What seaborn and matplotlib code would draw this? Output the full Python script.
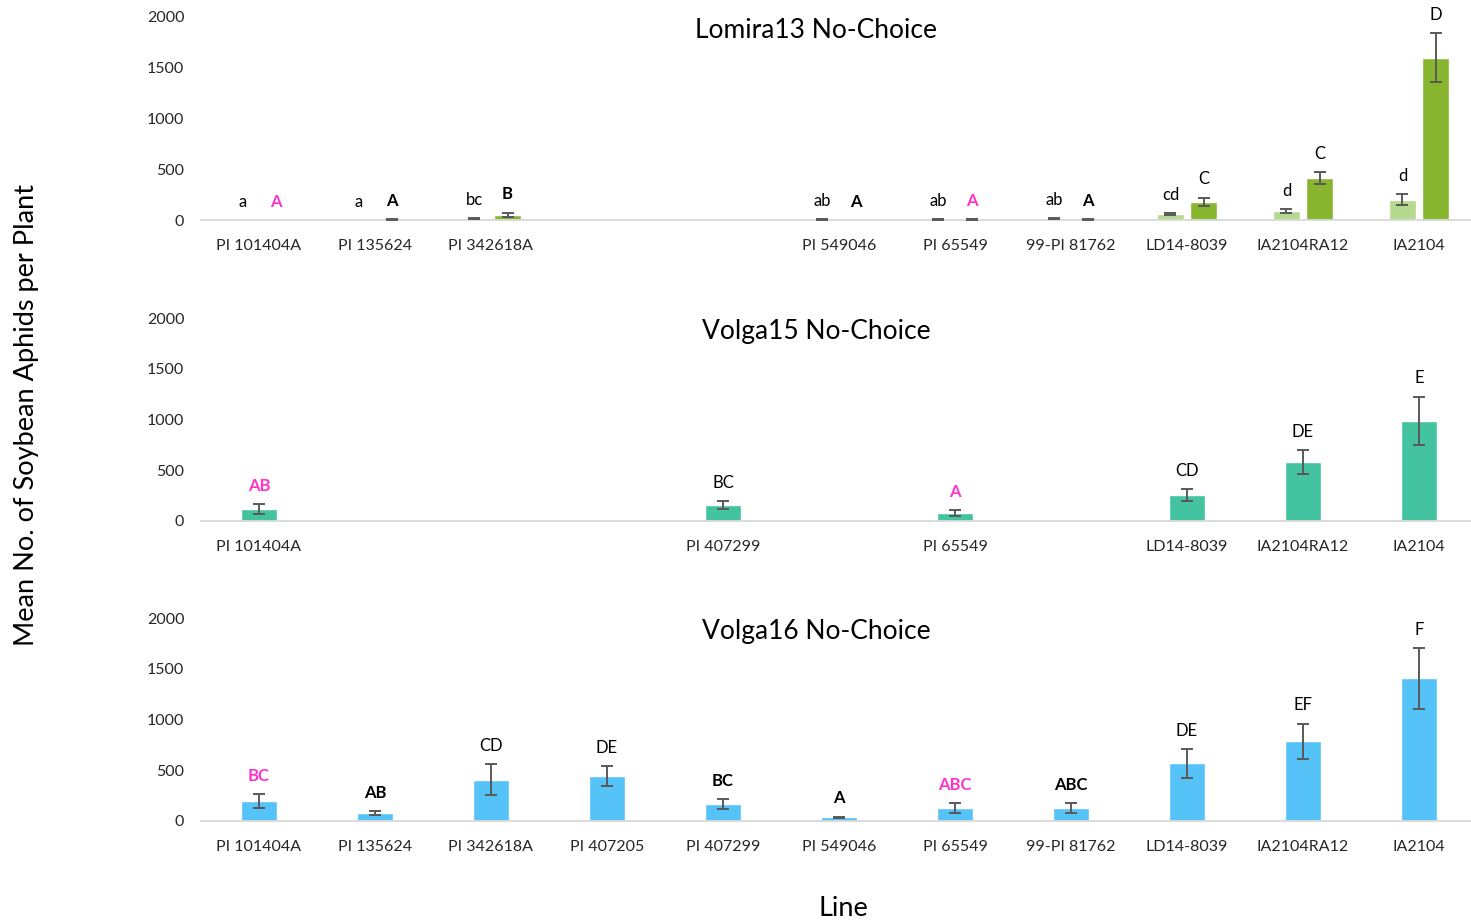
import matplotlib
matplotlib.use("Agg")
import matplotlib.pyplot as plt
import seaborn as sns
import pandas as pd

# Soybean lines on the shared category axis
CATEGORIES = ["PI 101404A", "PI 135624", "PI 342618A", "PI 407205", "PI 407299",
              "PI 549046", "PI 65549", "99-PI 81762", "LD14-8039", "IA2104RA12", "IA2104"]

MAGENTA = "#ff33cc"
BLACK = "#000000"

# Lomira13 no-choice: two series per line
lom_lines = ["PI 101404A", "PI 135624", "PI 342618A", "PI 549046", "PI 65549",
             "99-PI 81762", "LD14-8039", "IA2104RA12", "IA2104"]
lom_a_mean = [0, 0, 15, 5, 5, 10, 60, 90, 200]
lom_a_se = [0, 0, 5, 4, 4, 5, 8, 20, 55]
lom_a_text = ["a", "a", "bc", "ab", "ab", "ab", "cd", "d", "d"]
lom_a_color = [BLACK] * 9
lom_a_weight = ["normal"] * 9
lom_b_mean = [0, 5, 50, 0, 5, 5, 180, 410, 1600]
lom_b_se = [0, 4, 22, 0, 4, 4, 40, 60, 240]
lom_b_text = ["A", "A", "B", "A", "A", "A", "C", "C", "D"]
lom_b_color = [MAGENTA, BLACK, BLACK, BLACK, MAGENTA, BLACK, BLACK, BLACK, BLACK]
lom_b_weight = ["bold"] * 6 + ["normal"] * 3

# Volga15 no-choice
v15_lines = ["PI 101404A", "PI 407299", "PI 65549", "LD14-8039", "IA2104RA12", "IA2104"]
v15_mean = [120, 160, 75, 255, 580, 985]
v15_se = [47, 37, 30, 60, 120, 240]
v15_text = ["AB", "BC", "A", "CD", "DE", "E"]
v15_color = [MAGENTA, BLACK, MAGENTA, BLACK, BLACK, BLACK]
v15_weight = ["bold", "normal", "bold", "normal", "normal", "normal"]

# Volga16 no-choice
v16_lines = CATEGORIES
v16_mean = [197, 79, 407, 446, 167, 36, 125, 125, 568, 785, 1406]
v16_se = [69, 15, 153, 98, 50, 8, 50, 50, 141, 174, 300]
v16_text = ["BC", "AB", "CD", "DE", "BC", "A", "ABC", "ABC", "DE", "EF", "F"]
v16_color = [MAGENTA, BLACK, BLACK, BLACK, BLACK, BLACK, MAGENTA, BLACK, BLACK, BLACK, BLACK]
v16_weight = ["bold", "bold", "normal", "normal", "bold", "bold", "bold", "bold",
              "normal", "normal", "normal"]

Y_TICKS = [0, 500, 1000, 1500, 2000]

sns.set_theme(style="white")
plt.rcParams["font.family"] = ["Lato", "DejaVu Sans"]

FIG_W, FIG_H = 1471, 923
fig = plt.figure(figsize=(FIG_W / 100, FIG_H / 100), dpi=100)

AX_LEFT = 201 / FIG_W
AX_WIDTH = 1276 / FIG_W
AX_HEIGHT = 203 / FIG_H
TICK_COLOR = "#262626"


def make_axes(zero_px):
    return fig.add_axes([AX_LEFT, 1 - zero_px / FIG_H, AX_WIDTH, AX_HEIGHT])


def table(lines, mean, se, text, color, weight, series):
    return pd.DataFrame({"line": lines, "mean": mean, "se": se, "text": text,
                         "color": color, "weight": weight, "series": series})


def decorate(ax, frames, present):
    # error bars and significance letters on every drawn bar
    for container, frame in zip(ax.containers, frames):
        info = frame.set_index("line")
        for bar in container:
            x = bar.get_x() + bar.get_width() / 2
            name = CATEGORIES[int(round(x))]
            row = info.loc[name]
            h = row["mean"]
            if row["se"] > 0:
                ax.errorbar(x, h, yerr=row["se"], fmt="none", ecolor="#595959",
                            elinewidth=1.4, capsize=4, capthick=1.4, zorder=3)
            ax.annotate(row["text"], xy=(x, h + row["se"]), xytext=(0, 9.5),
                        textcoords="offset points", ha="center", va="baseline",
                        fontsize=12, color=row["color"], fontweight=row["weight"])
    ax.set_ylim(0, 2000)
    ax.set_xlim(-0.5, len(CATEGORIES) - 0.5)
    ax.set_yticks(Y_TICKS)
    ax.set_yticklabels([str(v) for v in Y_TICKS], fontsize=11.5, color=TICK_COLOR)
    ax.set_xticks(range(len(CATEGORIES)))
    ax.set_xticklabels([c if c in present else "" for c in CATEGORIES],
                       fontsize=11.5, color=TICK_COLOR)
    ax.tick_params(axis="both", length=0)
    ax.tick_params(axis="y", pad=12)
    ax.tick_params(axis="x", pad=14)
    ax.set_xlabel("")
    ax.set_ylabel("")
    for side in ("top", "right", "left"):
        ax.spines[side].set_visible(False)
    ax.spines["bottom"].set_color("#d9d9d9")
    ax.spines["bottom"].set_linewidth(1.3)
    ax.patch.set_alpha(0)


# --- Lomira13 ---
ax1 = make_axes(220)
lom_a = table(lom_lines, lom_a_mean, lom_a_se, lom_a_text, lom_a_color, lom_a_weight, "s1")
lom_b = table(lom_lines, lom_b_mean, lom_b_se, lom_b_text, lom_b_color, lom_b_weight, "s2")
lom = pd.concat([lom_a, lom_b], ignore_index=True)
sns.barplot(data=lom, x="line", y="mean", hue="series", order=CATEGORIES,
            hue_order=["s1", "s2"], palette=["#b5d98e", "#87b52e"], saturation=1,
            width=0.57, gap=0.2, errorbar=None, legend=False, ax=ax1)
decorate(ax1, [lom_a, lom_b], lom_lines)

# --- Volga15 ---
ax2 = make_axes(521)
v15 = table(v15_lines, v15_mean, v15_se, v15_text, v15_color, v15_weight, "s")
sns.barplot(data=v15, x="line", y="mean", order=CATEGORIES, color="#44c3a0",
            saturation=1, width=0.31, errorbar=None, ax=ax2)
decorate(ax2, [v15], v15_lines)

# --- Volga16 ---
ax3 = make_axes(821)
v16 = table(v16_lines, v16_mean, v16_se, v16_text, v16_color, v16_weight, "s")
sns.barplot(data=v16, x="line", y="mean", order=CATEGORIES, color="#55c3f7",
            saturation=1, width=0.31, errorbar=None, ax=ax3)
decorate(ax3, [v16], v16_lines)

# panel titles and shared axis labels
for title, ypx in [("Lomira13 No-Choice", 30), ("Volga15 No-Choice", 331),
                   ("Volga16 No-Choice", 632)]:
    fig.text(816 / FIG_W, 1 - ypx / FIG_H, title, ha="center", va="center",
             fontsize=19, color="#000000")

fig.text(27 / FIG_W, 1 - 415 / FIG_H, "Mean No. of Soybean Aphids per Plant",
         rotation=90, ha="center", va="center", fontsize=19.5, color="#000000")
fig.text(843 / FIG_W, 1 - 908 / FIG_H, "Line", ha="center", va="center",
         fontsize=19.5, color="#000000")

fig.savefig("out.png", dpi=100)
